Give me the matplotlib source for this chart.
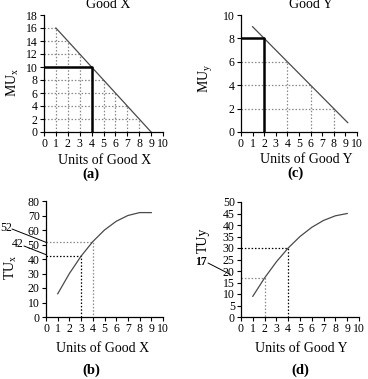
import matplotlib
matplotlib.use("Agg")
import matplotlib.pyplot as plt
from matplotlib.patches import ConnectionPatch
import numpy as np

plt.rcParams['font.family'] = ['Liberation Serif', 'DejaVu Serif']
plt.rcParams['mathtext.fontset'] = 'custom'
plt.rcParams['mathtext.rm'] = 'Liberation Serif'
plt.rcParams['mathtext.it'] = 'Liberation Serif:italic'

# Data
units_x = [1, 2, 3, 4, 5, 6, 7, 8, 9]
mu_x = [16, 14, 12, 10, 8, 6, 4, 2, 0]
tu_x = [16, 30, 42, 52, 60, 66, 70, 72, 72]
units_y = [1, 2, 3, 4, 5, 6, 7, 8, 9, 9.2]
mu_y = [9, 8, 7, 6, 5, 4, 3, 2, 1, 0.8]
tu_y = [9, 17, 24, 30, 35, 39, 42, 44, 45]

W, H = 368, 379
fig = plt.figure(figsize=(W / 100, H / 100), dpi=100)

def fx(x):
    return x / W

def fy(y):
    return 1 - y / H

def ax_px(l, r, t, b):
    return fig.add_axes([l / W, 1 - b / H, (r - l) / W, (b - t) / H])

def style(ax, ymax, ystep):
    ax.set_xlim(0, 10)
    ax.set_ylim(0, ymax)
    ax.set_xticks(range(0, 11))
    ax.set_yticks(np.arange(0, ymax + 0.1, ystep))
    for s in ['top', 'right']:
        ax.spines[s].set_visible(False)
    for s in ['left', 'bottom']:
        ax.spines[s].set_linewidth(0.9)
    ax.tick_params(direction='out', length=3, width=0.8, labelsize=8.5, pad=1.5)
    ax.patch.set_alpha(0)

def ftext(x, y, s, **kw):
    kw.setdefault('ha', 'center')
    fig.text(fx(x), fy(y), s, va='center', **kw)

def leader(ax, px, py, xy):
    con = ConnectionPatch(xyA=(fx(px), fy(py)), coordsA=fig.transFigure,
                          xyB=xy, coordsB=ax.transData, color='black', lw=0.7)
    fig.add_artist(con)

grid_kw = dict(color='#888888', linestyle=(0, (1.2, 1.5)), lw=0.9)
dark_dot = dict(color='black', linestyle=(0, (1.2, 1.5)), lw=0.9)
line_col = '#4a4a4a'

# (a)
a = ax_px(44, 163, 15, 132)
style(a, 18, 2)
for xv, yv in zip(units_x, mu_x):
    if yv > 0:
        a.plot([xv, xv], [0, yv], **grid_kw)
        a.plot([0, xv], [yv, yv], **grid_kw)
a.plot(units_x, mu_x, color=line_col, lw=0.9)
a.plot([0, 4, 4], [10, 10, 0], color='black', lw=1.8)

# (c)
c = ax_px(241, 357, 15, 132)
style(c, 10, 2)
for xv in [4, 6, 8]:
    yv = 10 - xv
    c.plot([xv, xv], [0, yv], **grid_kw)
    c.plot([0, xv], [yv, yv], **grid_kw)
c.plot(units_y, mu_y, color=line_col, lw=0.9)
c.plot([0, 2, 2], [8, 8, 0], color='black', lw=1.8)

# (b)
b = ax_px(46, 163, 201, 317)
style(b, 80, 10)
b.plot([0, 4, 4], [52, 52, 0], **grid_kw)
b.plot([0, 3, 3], [42, 42, 0], **dark_dot)
b.plot(units_x, tu_x, color=line_col, lw=0.9)
ftext(6, 228, '52', fontsize=8.5)
ftext(18, 244, '42', fontsize=8.5)
leader(b, 12, 229, (0, 51.5))
leader(b, 24, 246, (0, 43))

# (d)
d = ax_px(241, 359, 202, 317)
style(d, 50, 5)
d.plot([0, 4, 4], [30, 30, 0], **dark_dot)
d.plot([0, 2, 2], [17, 17, 0], **grid_kw)
d.plot(units_y[:9], tu_y, color=line_col, lw=0.9)
ftext(201, 262, '17', fontsize=8.5, fontweight='bold')
leader(d, 208, 263, (-0.9, 18.5))

# Axis labels
ftext(13, 82, r'MU$_{\mathrm{x}}$', fontsize=10, rotation=90)
ftext(206, 78, r'MU$_{\mathrm{y}}$', fontsize=10, rotation=90)
ftext(11, 267, r'TU$_{\mathrm{x}}$', fontsize=10, rotation=90)
ftext(203, 240, 'TUy', fontsize=10, rotation=90)

# Titles / labels
ftext(108, 5, 'Good X', fontsize=10)
ftext(311, 5, 'Good Y', fontsize=10)
ftext(105, 161, 'Units of Good X', fontsize=10)
ftext(91, 174, '(a)', fontsize=10.5, fontweight='bold')
ftext(306, 160, 'Units of Good Y', fontsize=10)
ftext(296, 173, '(c)', fontsize=10.5, fontweight='bold')
ftext(103, 348, 'Units of Good X', fontsize=10)
ftext(91, 370, '(b)', fontsize=10.5, fontweight='bold')
ftext(301, 348, 'Units of Good Y', fontsize=10)
ftext(300, 370, '(d)', fontsize=10.5, fontweight='bold')

fig.savefig('out.png', dpi=100)
